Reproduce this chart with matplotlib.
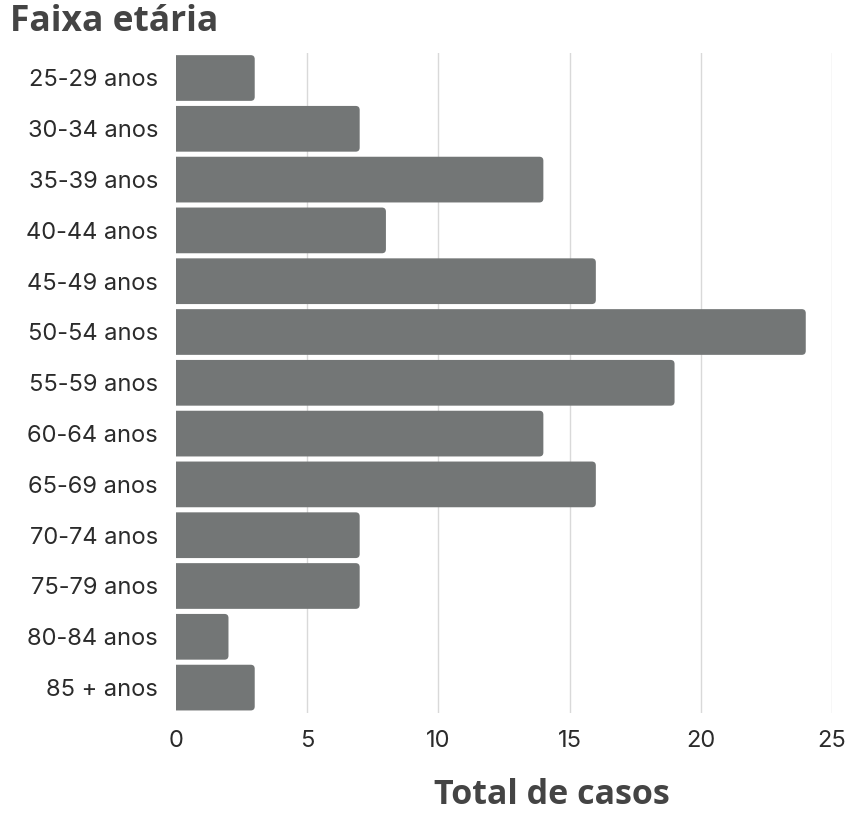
import matplotlib.pyplot as plt
from matplotlib.patches import PathPatch
from matplotlib.path import Path

# casos por faixa etaria
faixas = ["25-29 anos", "30-34 anos", "35-39 anos", "40-44 anos", "45-49 anos",
          "50-54 anos", "55-59 anos", "60-64 anos", "65-69 anos", "70-74 anos",
          "75-79 anos", "80-84 anos", "85 + anos"]
casos = [3, 7, 14, 8, 16, 24, 19, 14, 16, 7, 7, 2, 3]
xticks = [0, 5, 10, 15, 20, 25]

barColor = "#737676"
textColor = "#2b2b2b"

fig = plt.figure(figsize=(8.47, 8.14), dpi=100)
ax = fig.add_axes([176/847, 1-713/814, 656/847, (713-52.6)/814])

ax.set_xlim(0, 25)
ax.set_ylim(len(faixas)-0.5, -0.5)

## bar with square left end and rounded right corners
def barPath(y, v, h, rx, ry):
    y0, y1 = y - h/2, y + h/2
    verts = [(0, y0), (v-rx, y0), (v, y0), (v, y0+ry), (v, y1-ry),
             (v, y1), (v-rx, y1), (0, y1), (0, y0)]
    codes = [Path.MOVETO, Path.LINETO, Path.CURVE3, Path.CURVE3, Path.LINETO,
             Path.CURVE3, Path.CURVE3, Path.LINETO, Path.CLOSEPOLY]
    return Path(verts, codes)

h = 0.9
rx = 4 * 25/656     # ~4 px in data units
ry = 4 / 50.8
for i, v in enumerate(casos):
    ax.add_patch(PathPatch(barPath(i, v, h, rx, ry), facecolor=barColor,
                           edgecolor="none", zorder=3))

ax.set_yticks(range(len(faixas)))
ax.set_yticklabels(faixas, fontsize=17, color=textColor, family="Inter")
ax.set_xticks(xticks)
ax.set_xticklabels([str(t) for t in xticks], fontsize=17, color=textColor, family="Inter")
ax.tick_params(axis="both", length=0)
ax.tick_params(axis="y", pad=13)
ax.tick_params(axis="x", pad=12)

for t in xticks[1:]:
    ax.axvline(t, color="#d9d9d9", linewidth=1, zorder=1)
for s in ax.spines.values():
    s.set_visible(False)

fig.text(10/847, 1-22/814, "Faixa etária", fontsize=25.5, fontweight="bold",
         family="Open Sans", color="#444444", va="center", ha="left")
fig.text(552/847, 1-804/814, "Total de casos", fontsize=24.5, fontweight="bold",
         family="Open Sans", color="#444444", va="baseline", ha="center")

fig.savefig("out.png", dpi=100)
